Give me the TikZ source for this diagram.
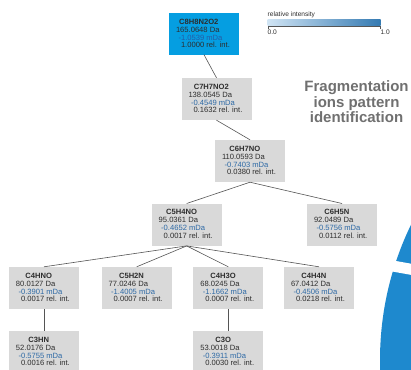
\documentclass[tikz,border=0pt]{standalone}
\usepackage{fontspec}
\setmainfont{Liberation Sans}
\definecolor{boxgray}{RGB}{217,217,217}
\definecolor{topblue}{RGB}{5,158,225}
\definecolor{mdablue}{RGB}{45,105,165}
\definecolor{mdatop}{RGB}{38,92,165}
\definecolor{txtdark}{RGB}{45,45,45}
\definecolor{edgegray}{RGB}{85,85,85}
\definecolor{circblue}{RGB}{30,137,206}
\definecolor{titlegray}{RGB}{112,112,112}
\definecolor{gradlo}{RGB}{208,228,244}
\definecolor{gradhi}{RGB}{52,122,178}
\tikzset{
  ionbox/.style={rectangle, fill=boxgray, minimum width=70pt, minimum height=42pt, inner sep=0pt},
  topbox/.style={ionbox, fill=topblue, minimum height=41pt},
  ionf/.style={inner sep=0pt, text height=5.4pt, text depth=0pt, font=\fontsize{7.6}{8}\selectfont\bfseries, text=txtdark},
  ionl/.style={inner sep=0pt, text height=5.4pt, text depth=0pt, font=\fontsize{7.6}{8}\selectfont, text=txtdark, anchor=west},
  edge/.style={draw=edgegray, line width=0.6pt},
  legtxt/.style={inner sep=0pt, font=\fontsize{6.6}{7}\selectfont, text=txtdark},
  titletxt/.style={inner sep=0pt, anchor=base, font=\fontsize{15}{15.5}\selectfont\bfseries, text=titlegray}
}
\newcommand\ionnode[9]{%
  \node[#8] (#1) at (#2,#3) {};
  \node[ionf] (#1f) at ([xshift=30pt,yshift=-8.5pt]#1.north west) {#4};
  \node[ionl] (#1m) at ([xshift=7pt,yshift=-16.5pt]#1.north west) {#5 Da};
  \node[ionl,text=#9] (#1d) at ([xshift=9.5pt,yshift=-24.5pt]#1.north west) {#6 mDa};
  \node[ionl] (#1r) at ([xshift=12pt,yshift=-32pt]#1.north west) {#7 rel. int.};
}
\begin{document}
\begin{tikzpicture}[x=1pt,y=-1pt]
\useasboundingbox (0,0) rectangle (411,369);
\fill[white] (0,0) rectangle (411,369);
\clip (0,0) rectangle (411,369);
% decorative circle
\fill[circblue] (690,360) circle (310pt);
\draw[white, line width=11pt] (370,261.9) -- (425,271.8);
% legend
\node[legtxt, anchor=west] (legtitle) at (267.5,15) {relative intensity};
\shade[left color=gradlo, right color=gradhi] (267.7,20) rectangle (380.7,25.3);
\draw[edgegray, line width=0.5pt] (268,29) -- (268,25.8) -- (380.7,25.8) -- (380.7,29);
\node[legtxt, anchor=west] (leg0) at (267.5,32.3) {0.0};
\node[legtxt, anchor=west] (leg1) at (380.3,32.3) {1.0};
% title
\node[titletxt] (title1) at (356.5,91.7) {Fragmentation};
\node[titletxt] (title2) at (356.5,107.3) {ions pattern};
\node[titletxt] (title3) at (356.5,122.8) {identification};
% ions
\ionnode{a}{204}{34}{C8H8N2O2}{165.0648}{-1.0539}{1.0000}{topbox}{mdatop}
\ionnode{b}{216.5}{99}{C7H7NO2}{138.0545}{-0.4549}{0.1632}{ionbox}{mdablue}
\ionnode{c}{250}{161}{C6H7NO}{110.0593}{-0.7403}{0.0380}{ionbox}{mdablue}
\ionnode{d}{186.7}{224.7}{C5H4NO}{95.0361}{-0.4652}{0.0017}{ionbox}{mdablue}
\ionnode{e}{342}{224.7}{C6H5N}{92.0489}{-0.5756}{0.0112}{ionbox}{mdablue}
\ionnode{f}{44}{288}{C4HNO}{80.0127}{-0.3901}{0.0017}{ionbox}{mdablue}
\ionnode{g}{136.7}{288}{C5H2N}{77.0246}{-1.4005}{0.0007}{ionbox}{mdablue}
\ionnode{h}{228.3}{288}{C4H3O}{68.0245}{-1.1662}{0.0007}{ionbox}{mdablue}
\ionnode{i}{319}{288}{C4H4N}{67.0412}{-0.4506}{0.0218}{ionbox}{mdablue}
\ionnode{j}{44}{352}{C3HN}{52.0176}{-0.5755}{0.0016}{ionbox}{mdablue}
\ionnode{k}{228.3}{352}{C3O}{53.0018}{-0.3911}{0.0030}{ionbox}{mdablue}
% connectors
\draw[edge] (a.south) -- (b.north);
\draw[edge] (b.south) -- (c.north);
\draw[edge] (c.south) -- (d.north);
\draw[edge] (c.south) -- (e.north);
\draw[edge] (d.south) -- (f.north);
\draw[edge] (d.south) -- (g.north);
\draw[edge] (d.south) -- (h.north);
\draw[edge] (d.south) -- (i.north);
\draw[edge] (f.south) -- (j.north);
\draw[edge] (h.south) -- (k.north);
\end{tikzpicture}
\end{document}
